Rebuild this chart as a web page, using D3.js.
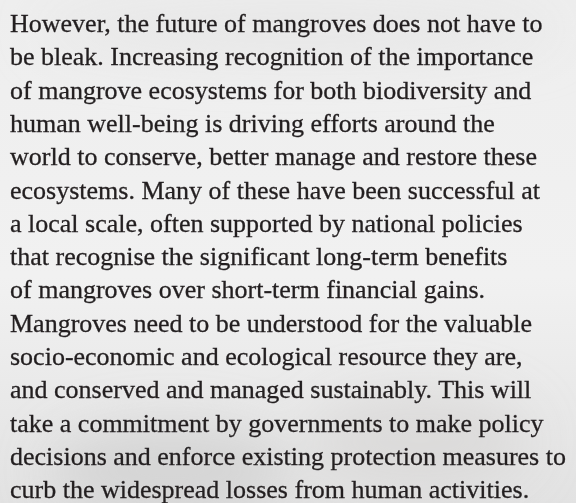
<!DOCTYPE html>
<html>
<head>
<meta charset="utf-8">
<script src="https://cdn.jsdelivr.net/npm/d3@7"></script>
<style>
  html, body { margin: 0; padding: 0; background: #efefef; }
  svg { display: block; }
</style>
</head>
<body>
<div id="page"></div>
<script>
// 1: TEXT LINES (as set in the reference)
const lines = [
    "However, the future of mangroves does not have to",
    "be bleak. Increasing recognition of the importance",
    "of mangrove ecosystems for both biodiversity and",
    "human well-being is driving efforts around the",
    "world to conserve, better manage and restore these",
    "ecosystems. Many of these have been successful at",
    "a local scale, often supported by national policies",
    "that recognise the significant long-term benefits",
    "of mangroves over short-term financial gains.",
    "Mangroves need to be understood for the valuable",
    "socio-economic and ecological resource they are,",
    "and conserved and managed sustainably. This will",
    "take a commitment by governments to make policy",
    "decisions and enforce existing protection measures to",
    "curb the widespread losses from human activities."
];

const width = 576;
const height = 503;

const svg = d3.select("#page")
    .append("svg")
    .attr("width", width)
    .attr("height", height);

// 2: FADED PHOTO BACKGROUND
const defs = svg.append("defs");

const bg = defs.append("linearGradient")
    .attr("id", "bg")
    .attr("x1", 0).attr("y1", 0)
    .attr("x2", 0).attr("y2", 1);
bg.append("stop").attr("offset", "0%").attr("stop-color", "#eeeeee");
bg.append("stop").attr("offset", "55%").attr("stop-color", "#f1f1f1");
bg.append("stop").attr("offset", "100%").attr("stop-color", "#e2e2e2");

defs.append("filter")
    .attr("id", "blur")
    .attr("x", "-50%").attr("y", "-50%")
    .attr("width", "200%").attr("height", "200%")
    .append("feGaussianBlur")
    .attr("stdDeviation", 25);

svg.append("rect")
    .attr("width", width)
    .attr("height", height)
    .attr("fill", "url(#bg)");

// soft darker patches near the bottom, like the washed out photo
const patches = svg.append("g").attr("filter", "url(#blur)");
patches.append("ellipse")
    .attr("cx", 170).attr("cy", 470).attr("rx", 120).attr("ry", 45)
    .attr("fill", "#cfcfcf").attr("opacity", 0.7);
patches.append("ellipse")
    .attr("cx", 420).attr("cy", 440).attr("rx", 110).attr("ry", 50)
    .attr("fill", "#d6d4d2").attr("opacity", 0.6);
patches.append("ellipse")
    .attr("cx", 300).attr("cy", 30).attr("rx", 260).attr("ry", 30)
    .attr("fill", "#e6e6e6").attr("opacity", 0.8);

// 3: LINE POSITIONS
const yScale = d3.scaleLinear()
    .domain([0, lines.length - 1])
    .range([32, 32 + 33.3 * (lines.length - 1)]);

// 4: DRAW TEXT
svg.append("g")
    .selectAll("text")
    .data(lines)
    .enter()
    .append("text")
    .attr("x", 10)
    .attr("y", (d, i) => yScale(i))
    .attr("font-family", "'Liberation Serif', 'DejaVu Serif', serif")
    .attr("font-size", 26)
    .attr("fill", "#231f20")
    .attr("stroke", "#231f20")
    .attr("stroke-width", 0.3)
    .text(d => d);
</script>
</body>
</html>
